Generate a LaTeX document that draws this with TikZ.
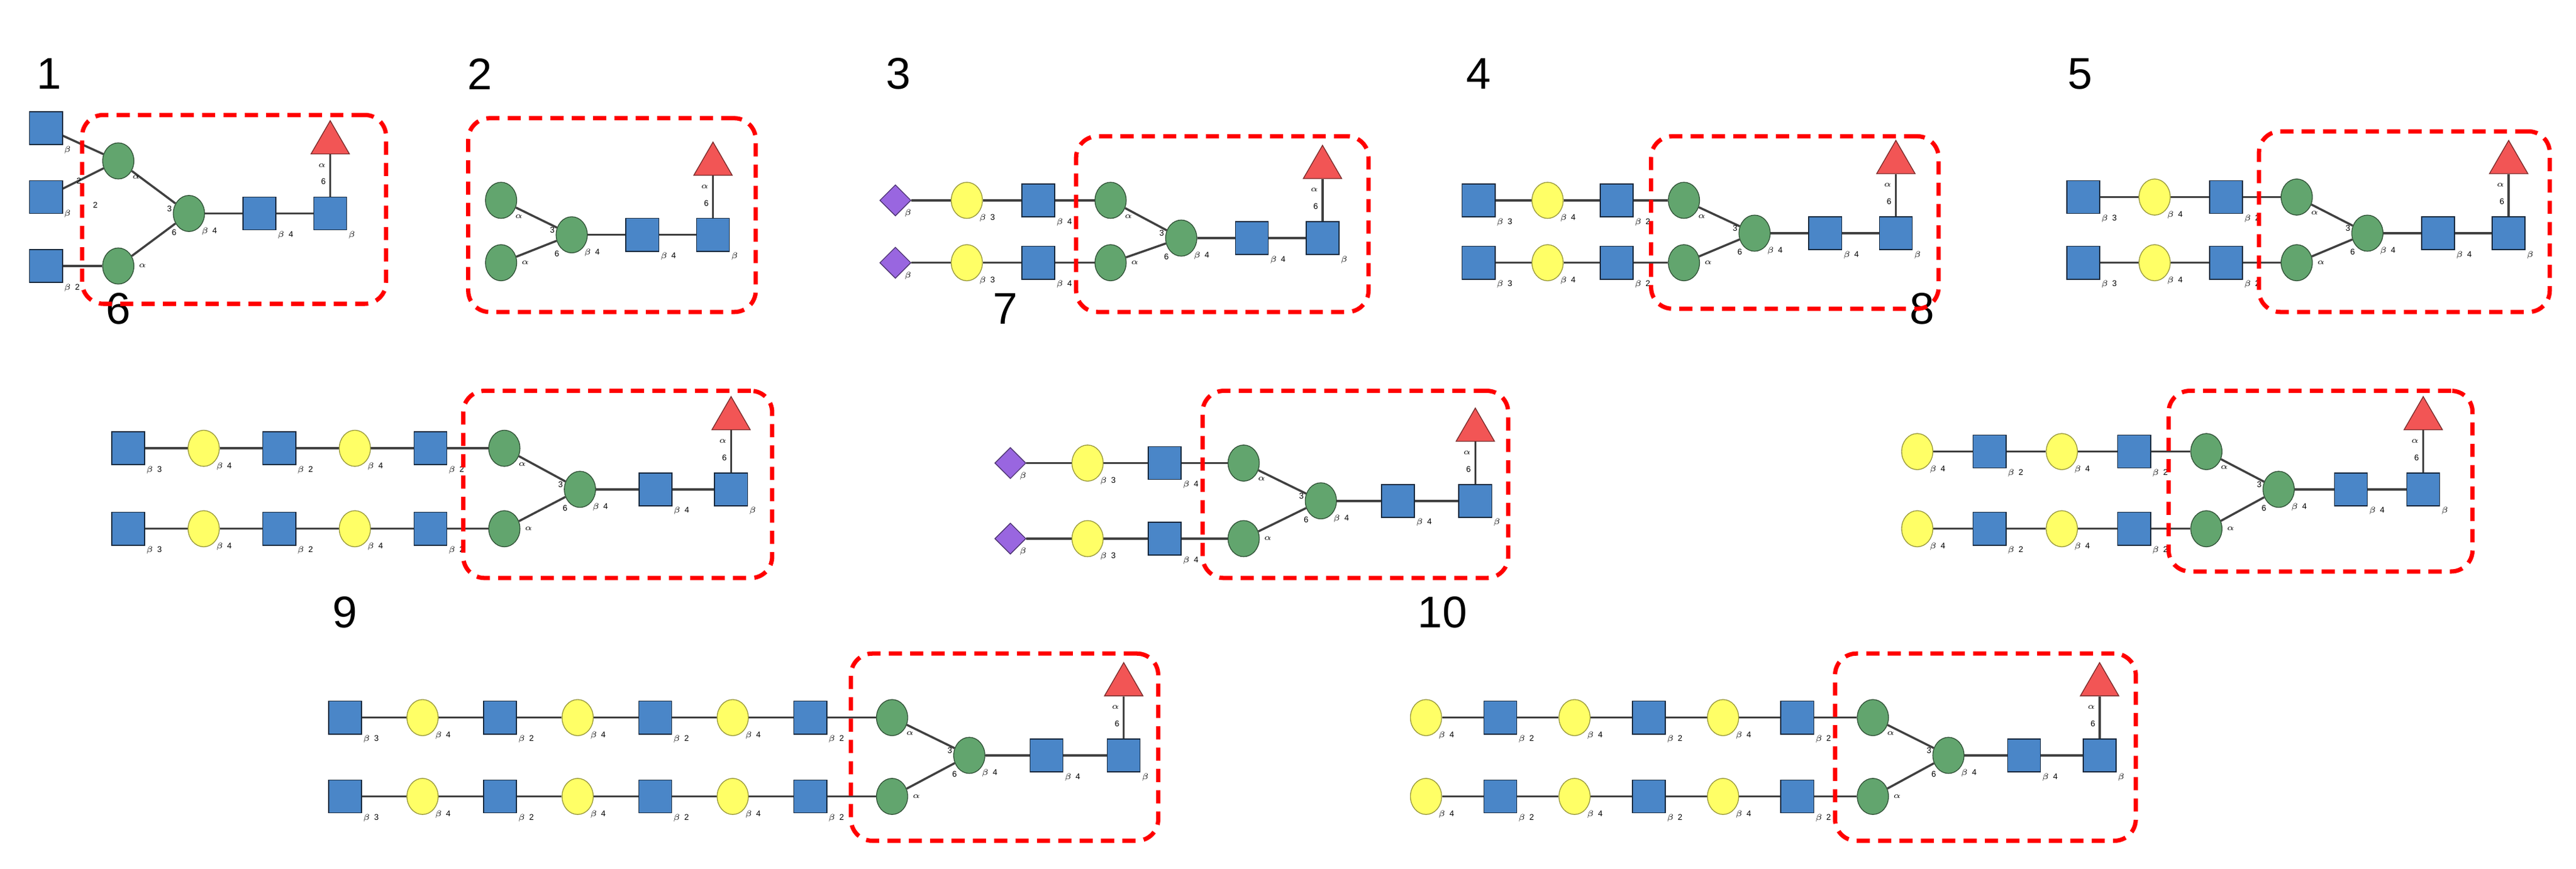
\documentclass[tikz,border=0pt]{standalone}
\usepackage{fontspec}
\setmainfont{Liberation Sans}
\usetikzlibrary{shapes.geometric,backgrounds}
\definecolor{gb}{HTML}{4A86C8}
\definecolor{gg}{HTML}{62A56E}
\definecolor{gy}{HTML}{FFFF66}
\definecolor{gr}{HTML}{F25555}
\definecolor{gp}{HTML}{9966E0}
\tikzset{
 sq/.style={rectangle,draw=black!70!gb,fill=gb,minimum size=20,inner sep=0,line width=0.6},
 ye/.style={ellipse,draw=black!40!gy,fill=gy,minimum width=19,minimum height=22,inner sep=0,line width=0.5},
 gn/.style={ellipse,draw=black!50!gg,fill=gg,minimum width=19,minimum height=22,inner sep=0,line width=0.5},
 di/.style={diamond,draw=black!50!gp,fill=gp,minimum size=19,inner sep=0,line width=0.5},
 tri/.style={regular polygon,regular polygon sides=3,draw=black!50!gr,fill=gr,minimum size=27,inner sep=0,line width=0.5},
 bond/.style={draw=black!75,line width=1.3},
 lk/.style={font=\fontsize{5}{5}\selectfont,inner sep=0.5},
 num/.style={font=\fontsize{27}{27}\selectfont},
 box/.style={draw=red,line width=2.6,dash pattern=on 8 off 5,rounded corners=13},
}
\newcommand\glycore[6]{%
 \node[gn] (#1mu) at (#2,#3) {};
 \node[gn] (#1ml) at (#2,#4) {};
 \node[gn] (#1mc) at ({#2+#6},#5) {};
 \node[sq] (#1sa) at ({#2+2*#6},#5) {};
 \node[sq] (#1sb) at ({#2+3*#6},#5) {};
 \node[tri] (#1f) at ({#2+3*#6},{#5-43}) {};
 \begin{pgfonlayer}{background}
 \draw[bond] (#1mu) -- (#1mc);
 \draw[bond] (#1ml) -- (#1mc);
 \draw[bond] (#1mc) -- (#1sa);
 \draw[bond] (#1sa) -- (#1sb);
 \draw[bond] (#1sb) -- (#1f);
 \end{pgfonlayer}
 \node[lk,anchor=north west] at ([xshift=1pt]#1mu.south east) {$\alpha$};
 \node[lk,anchor=west] at ([xshift=2pt]#1ml.east) {$\alpha$};
 \node[lk,anchor=east] at ([yshift=3pt]#1mc.west) {3};
 \node[lk,anchor=north east] at ([yshift=-1pt]#1mc.south west) {6};
 \node[lk,anchor=north west] at (#1mc.south east) {$\beta$\,\,\,4};
 \node[lk,anchor=north west] at (#1sa.south east) {$\beta$\,\,\,4};
 \node[lk,anchor=north west] at (#1sb.south east) {$\beta$};
 \node[lk,anchor=east] at ([xshift=-2pt,yshift=9pt]#1sb.north) {6};
 \node[lk,anchor=east] at ([xshift=-2pt,yshift=19pt]#1sb.north) {$\alpha$};
}
\newcommand\glychain[7]{%
 \foreach[count=\i] \t/\l in {#5}{
  \node[\t] (#1\i) at ({#3+(\i-1)*#4},#2) {};
  \node[lk,anchor=north west] at (#1\i.south east) {$\beta$\,\,\,\l};
  \ifnum\i>1 \pgfmathtruncatemacro\j{\i-1}
   \begin{pgfonlayer}{background}\draw[bond] (#1\j) -- (#1\i);\end{pgfonlayer}\fi
 }
 \begin{pgfonlayer}{background}\draw[bond] (#1#6) -- (#7);\end{pgfonlayer}
}
\begin{document}
\begin{tikzpicture}[x=1pt,y=-1pt]
\useasboundingbox (0,0) rectangle (1568,529);
\node[num] (n1) at (30,45) {1};
\node[num] (n2) at (292,45) {2};
\node[num] (n3) at (547,45) {3};
\node[num] (n4) at (900,45) {4};
\node[num] (n5) at (1266,45) {5};
\node[num] (n6) at (72,188) {6};
\node[num] (n7) at (612,188) {7};
\node[num] (n8) at (1170,188) {8};
\node[num] (n9) at (210,373) {9};
\node[num] (n10) at (878,373) {10};
% 1
\glycore{a}{72}{98}{162}{130}{43}
\node[sq] (a1) at (28,78) {};
\node[sq] (a2) at (28,120) {};
\node[sq] (a3) at (28,162) {};
\begin{pgfonlayer}{background}
\draw[bond] (a1) -- (amu); \draw[bond] (a2) -- (amu); \draw[bond] (a3) -- (aml);
\end{pgfonlayer}
\node[lk,anchor=north west] at (a1.south east) {$\beta$};
\node[lk,anchor=north west] at ([yshift=3pt]a2.south east) {$\beta$};
\node[lk,anchor=north west] at (a3.south east) {$\beta$\,\,\,2};
\node[lk] at (48,110) {2};
\node[lk] at (58,125) {2};
\node[box] (b1) at (142.5,127.5) [minimum width=185,minimum height=115] {};
% 2
\glycore{b}{305}{122}{160}{143}{43}
\node[box] (b2) at (372.5,131) [minimum width=175,minimum height=118] {};
% 3
\glycore{c}{676}{122}{160}{145}{43}
\glychain{cu}{122}{545}{43.5}{di/,ye/3,sq/4}{3}{cmu}
\glychain{cl}{160}{545}{43.5}{di/,ye/3,sq/4}{3}{cml}
\node[box] (b3) at (744,136.5) [minimum width=178,minimum height=107] {};
% 4
\glycore{d}{1025}{122}{160}{142}{43}
\glychain{du}{122}{900}{42}{sq/3,ye/4,sq/2}{3}{dmu}
\glychain{dl}{160}{900}{42}{sq/3,ye/4,sq/2}{3}{dml}
\node[box] (b4) at (1092.5,135.5) [minimum width=175,minimum height=105] {};
% 5
\glycore{e}{1398}{120}{160}{142}{43}
\glychain{eu}{120}{1268}{43.5}{sq/3,ye/4,sq/2}{3}{emu}
\glychain{el}{160}{1268}{43.5}{sq/3,ye/4,sq/2}{3}{eml}
\node[box] (b5) at (1463.5,135) [minimum width=177,minimum height=110] {};
% 6
\glycore{f}{307}{273}{322}{298}{46}
\glychain{fu}{273}{78}{46}{sq/3,ye/4,sq/2,ye/4,sq/2}{5}{fmu}
\glychain{fl}{322}{78}{46}{sq/3,ye/4,sq/2,ye/4,sq/2}{5}{fml}
\node[box] (b6) at (376,295) [minimum width=188,minimum height=114] {};
% 7
\glycore{g}{757}{282}{328}{305}{47}
\glychain{gu}{282}{615}{47}{di/,ye/3,sq/4}{3}{gmu}
\glychain{gl}{328}{615}{47}{di/,ye/3,sq/4}{3}{gml}
\node[box] (b7) at (825,295) [minimum width=186,minimum height=114] {};
% 8
\glycore{h}{1343}{275}{322}{298}{44}
\glychain{hu}{275}{1167}{44}{ye/4,sq/2,ye/4,sq/2}{4}{hmu}
\glychain{hl}{322}{1167}{44}{ye/4,sq/2,ye/4,sq/2}{4}{hml}
\node[box] (b8) at (1412.5,293) [minimum width=185,minimum height=110] {};
% 9
\glycore{i}{543}{437}{485}{460}{47}
\glychain{iu}{437}{210}{47.2}{sq/3,ye/4,sq/2,ye/4,sq/2,ye/4,sq/2}{7}{imu}
\glychain{il}{485}{210}{47.2}{sq/3,ye/4,sq/2,ye/4,sq/2,ye/4,sq/2}{7}{iml}
\node[box] (b9) at (611.5,455) [minimum width=187,minimum height=114] {};
% 10
\glycore{j}{1140}{437}{485}{460}{46}
\glychain{ju}{437}{868}{45.2}{ye/4,sq/2,ye/4,sq/2,ye/4,sq/2}{6}{jmu}
\glychain{jl}{485}{868}{45.2}{ye/4,sq/2,ye/4,sq/2,ye/4,sq/2}{6}{jml}
\node[box] (b10) at (1208.5,455) [minimum width=183,minimum height=114] {};
\end{tikzpicture}
\end{document}
